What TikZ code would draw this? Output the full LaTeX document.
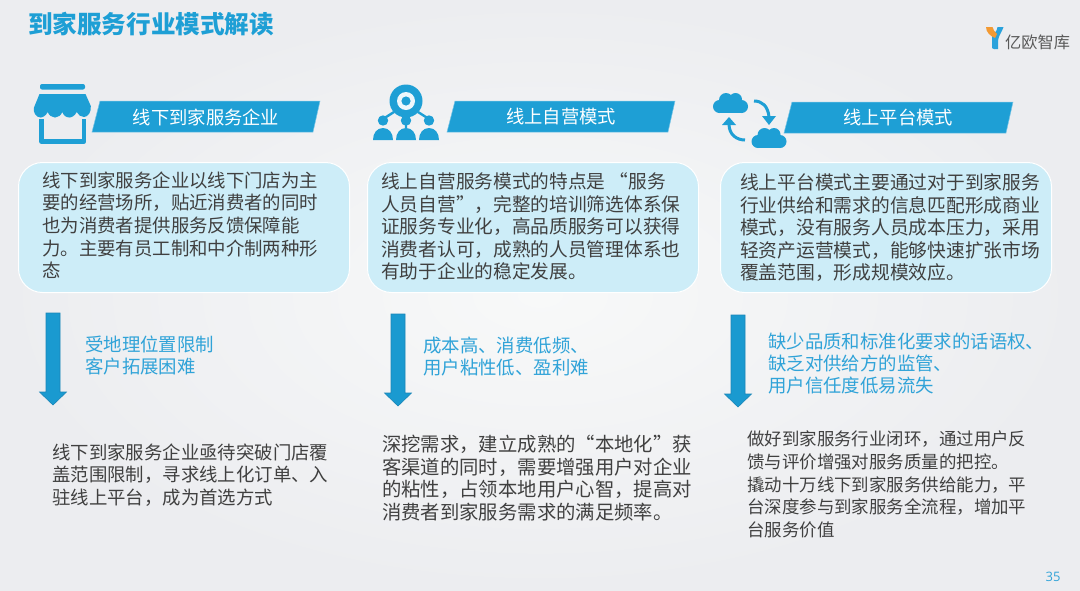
\documentclass[tikz,border=0pt]{standalone}
\usepackage{fontspec}
\setmainfont[Kerning=Off]{Noto Sans CJK SC}
\newfontfamily\latinfont{Open Sans}
\newcommand{\zc}{\char"FF0C\relax}
\definecolor{bluemain}{HTML}{1E9FD5}
\definecolor{boxfill}{HTML}{CDEDF8}
\definecolor{bodytext}{HTML}{404040}
\definecolor{bluetext}{HTML}{30A3D8}
\definecolor{arrowfill}{HTML}{1A9AD0}
\definecolor{arrowedge}{HTML}{1A86B8}
\definecolor{logoorange}{HTML}{F39A33}
\definecolor{logoblue}{HTML}{2AA2DC}
\definecolor{bginner}{HTML}{F8F9F9}
\definecolor{bgouter}{HTML}{ECEDF0}
\tikzset{
 x=1pt,y=-1pt,
 panel/.style={draw=white,line width=1pt,fill=boxfill,rounded corners=24pt,anchor=north west,minimum width=331pt,minimum height=130pt,inner sep=0pt},
 bodyblock/.style={anchor=north west,inner sep=0pt,align=left,text=bodytext,font=\fontsize{#1}{22.6}\selectfont},
 bodyblock/.default=18.4,
 blueblock/.style={anchor=north west,inner sep=0pt,align=left,text=bluetext,font=\fontsize{18.4}{22.2}\selectfont},
 bannertext/.style={text=white,inner sep=0pt,font=\fontsize{18.3}{22}\selectfont},
 banner/.style={fill=bluemain,draw=white!40!bluemain,line width=.5pt},
}
\newcommand{\downarrowshape}[3]{%
 \draw[fill=arrowfill,draw=arrowedge,line width=.6pt] (#1-7,#2) -- (#1+7,#2) -- (#1+7,#3-13) -- (#1+13.5,#3-13) -- (#1,#3) -- (#1-13.5,#3-13) -- (#1-7,#3-13) -- cycle;}
\newcommand{\cloudshape}[2]{%
 \begin{scope}[shift={(#1,#2)}]
 \fill[bluemain] (-11,3.5) circle[radius=6.5pt] (11,3.5) circle[radius=6.5pt]
   (-4.5,-3) circle[radius=7pt] (5,-3.5) circle[radius=6.5pt] (-2,-1) circle[radius=5pt];
 \fill[bluemain] (-11,-1) rectangle (11,10);
 \end{scope}}
\begin{document}
\begin{tikzpicture}
\useasboundingbox (0,0) rectangle (1080,590);
\shade[inner color=bginner,outer color=bgouter] (0,0) rectangle (1080,590);

\node[anchor=west,inner sep=0pt,text=bluemain,font=\fontsize{24.6}{28}\selectfont\bfseries] (title) at (28,24) {到家服务行业模式解读};

% logo
\fill[logoblue] (992,33) -- (998,33) -- (998,49) .. controls (995,50) and (993,49) .. (992,48) -- cycle;
\fill[logoblue] (998,40) .. controls (999,35) and (1002,32) .. (1003.5,27) -- (997.5,27) .. controls (997,31) and (995,33) .. (992,35) -- (992,40) -- cycle;
\fill[logoorange] (986,27) -- (992.5,27) .. controls (993,30) and (995,32) .. (997,34) -- (995,38) .. controls (990,36) and (986,32) .. (986,27) -- cycle;
\node[anchor=west,inner sep=0pt,text=black!65,font=\fontsize{16.2}{18}\selectfont] (logotext) at (1005,42) {亿欧智库};

% shop icon
\fill[bluemain,rounded corners=2pt] (40,84) rectangle (85,89.5);
\fill[bluemain] (39.5,94) -- (85.5,94) -- (90.8,106) .. controls (91.5,112) and (88,117) .. (84,117)
 .. controls (81,117) and (78,115) .. (76.7,112)
 .. controls (75,115.5) and (72,117.5) .. (69.5,117.5) .. controls (66,117.5) and (63.5,115.5) .. (62.3,112)
 .. controls (61,115.5) and (58,117.5) .. (55,117.5) .. controls (52,117.5) and (49,115.5) .. (47.7,112)
 .. controls (46,115.5) and (43,117.5) .. (40.5,117.5) .. controls (36,117.5) and (33,112) .. (33.8,108) -- cycle;
\draw[bluemain,line width=4.4pt,line join=round] (41.5,119) -- (41.5,141.5) -- (84,141.5) -- (84,119);

% people icon
\fill[bluemain] (406,101) circle[radius=16.5pt];
\fill[white!92!bluemain] (406,101) circle[radius=9pt];
\fill[bluemain] (406,101) circle[radius=4.6pt];
\draw[bluemain,line width=2.4pt] (394,112) -- (383,119) (418,112) -- (429,119) (406,117) -- (406,132);
\foreach \cx in {383,406,429}{
 \fill[bluemain] (\cx,120.5) circle[radius=5.2pt];
 \fill[bluemain] (\cx-10,140) .. controls (\cx-10,133) and (\cx-6,128) .. (\cx,128) .. controls (\cx+6,128) and (\cx+10,133) .. (\cx+10,140) -- cycle;
}

% cloud icon
\cloudshape{730.5}{103}
\cloudshape{769}{138}
\draw[bluemain,line width=3pt] (754,101) .. controls (762,101) and (768,106) .. (769,117);
\fill[bluemain] (762,116) -- (776,116) -- (769,125) -- cycle;
\draw[bluemain,line width=3pt] (745,140) .. controls (737,140) and (729,135) .. (729,124);
\fill[bluemain] (722,125) -- (736,125) -- (729,117) -- cycle;

% banners
\draw[banner] (100,101) -- (320,101) -- (313,132) -- (92,132) -- cycle;
\node[bannertext] (b1) at (206,117) {线下到家服务企业};
\draw[banner] (455,101) -- (675,101) -- (668,132) -- (447,132) -- cycle;
\node[bannertext] (b2) at (561,117) {线上自营模式};
\draw[banner] (792,102) -- (1013,102) -- (1006,133) -- (784,133) -- cycle;
\node[bannertext] (b3) at (898,118) {线上平台模式};

% panels
\node[panel] (p1) at (18,162) {};
\node[panel] (p2) at (367,162) {};
\node[panel] (p3) at (720,162) {};

\node[bodyblock] (t1) at (42,171.5) {线下到家服务企业以线下门店为主\\要的经营场所\zc 贴近消费者的同时\\也为消费者提供服务反馈保障能\\力。主要有员工制和中介制两种形\\态};
\node[bodyblock=18.7] (t2) at (381,172.5) {线上自营服务模式的特点是 “服务\\人员自营”\zc 完整的培训筛选体系保\\证服务专业化\zc 高品质服务可以获得\\消费者认可\zc 成熟的人员管理体系也\\有助于企业的稳定发展。};
\node[bodyblock=18.75] (t3) at (740,173.5) {线上平台模式主要通过对于到家服务\\行业供给和需求的信息匹配形成商业\\模式\zc 没有服务人员成本压力\zc 采用\\轻资产运营模式\zc 能够快速扩张市场\\覆盖范围\zc 形成规模效应。};

% arrows
\downarrowshape{53}{313}{405}
\downarrowshape{398}{314}{406}
\downarrowshape{738}{315}{407}

\node[blueblock] (r1) at (85,335.5) {受地理位置限制\\客户拓展困难};
\node[blueblock] (r2) at (423,336.5) {成本高、消费低频、\\用户粘性低、盈利难};
\node[blueblock] (r3) at (768,332.5) {缺少品质和标准化要求的话语权、\\缺乏对供给方的监管、\\用户信任度低易流失};

\node[bodyblock] (s1) at (52,443.5) {线下到家服务企业亟待突破门店覆\\盖范围限制\zc 寻求线上化订单、入\\驻线上平台\zc 成为首选方式};
\node[bodyblock=19.35] (s2) at (382,435) {深挖需求\zc 建立成熟的“本地化”获\\客渠道的同时\zc 需要增强用户对企业\\的粘性\zc 占领本地用户心智\zc 提高对\\消费者到家服务需求的满足频率。};
\node[bodyblock=17.45] (s3) at (747,431) {做好到家服务行业闭环\zc 通过用户反\\馈与评价增强对服务质量的把控。\\撬动十万线下到家服务供给能力\zc 平\\台深度参与到家服务全流程\zc 增加平\\台服务价值};

\node[anchor=center,inner sep=0pt,text=bluetext,font=\latinfont\fontsize{13}{15}\selectfont] (pg) at (1053,577) {35};
\end{tikzpicture}
\end{document}
